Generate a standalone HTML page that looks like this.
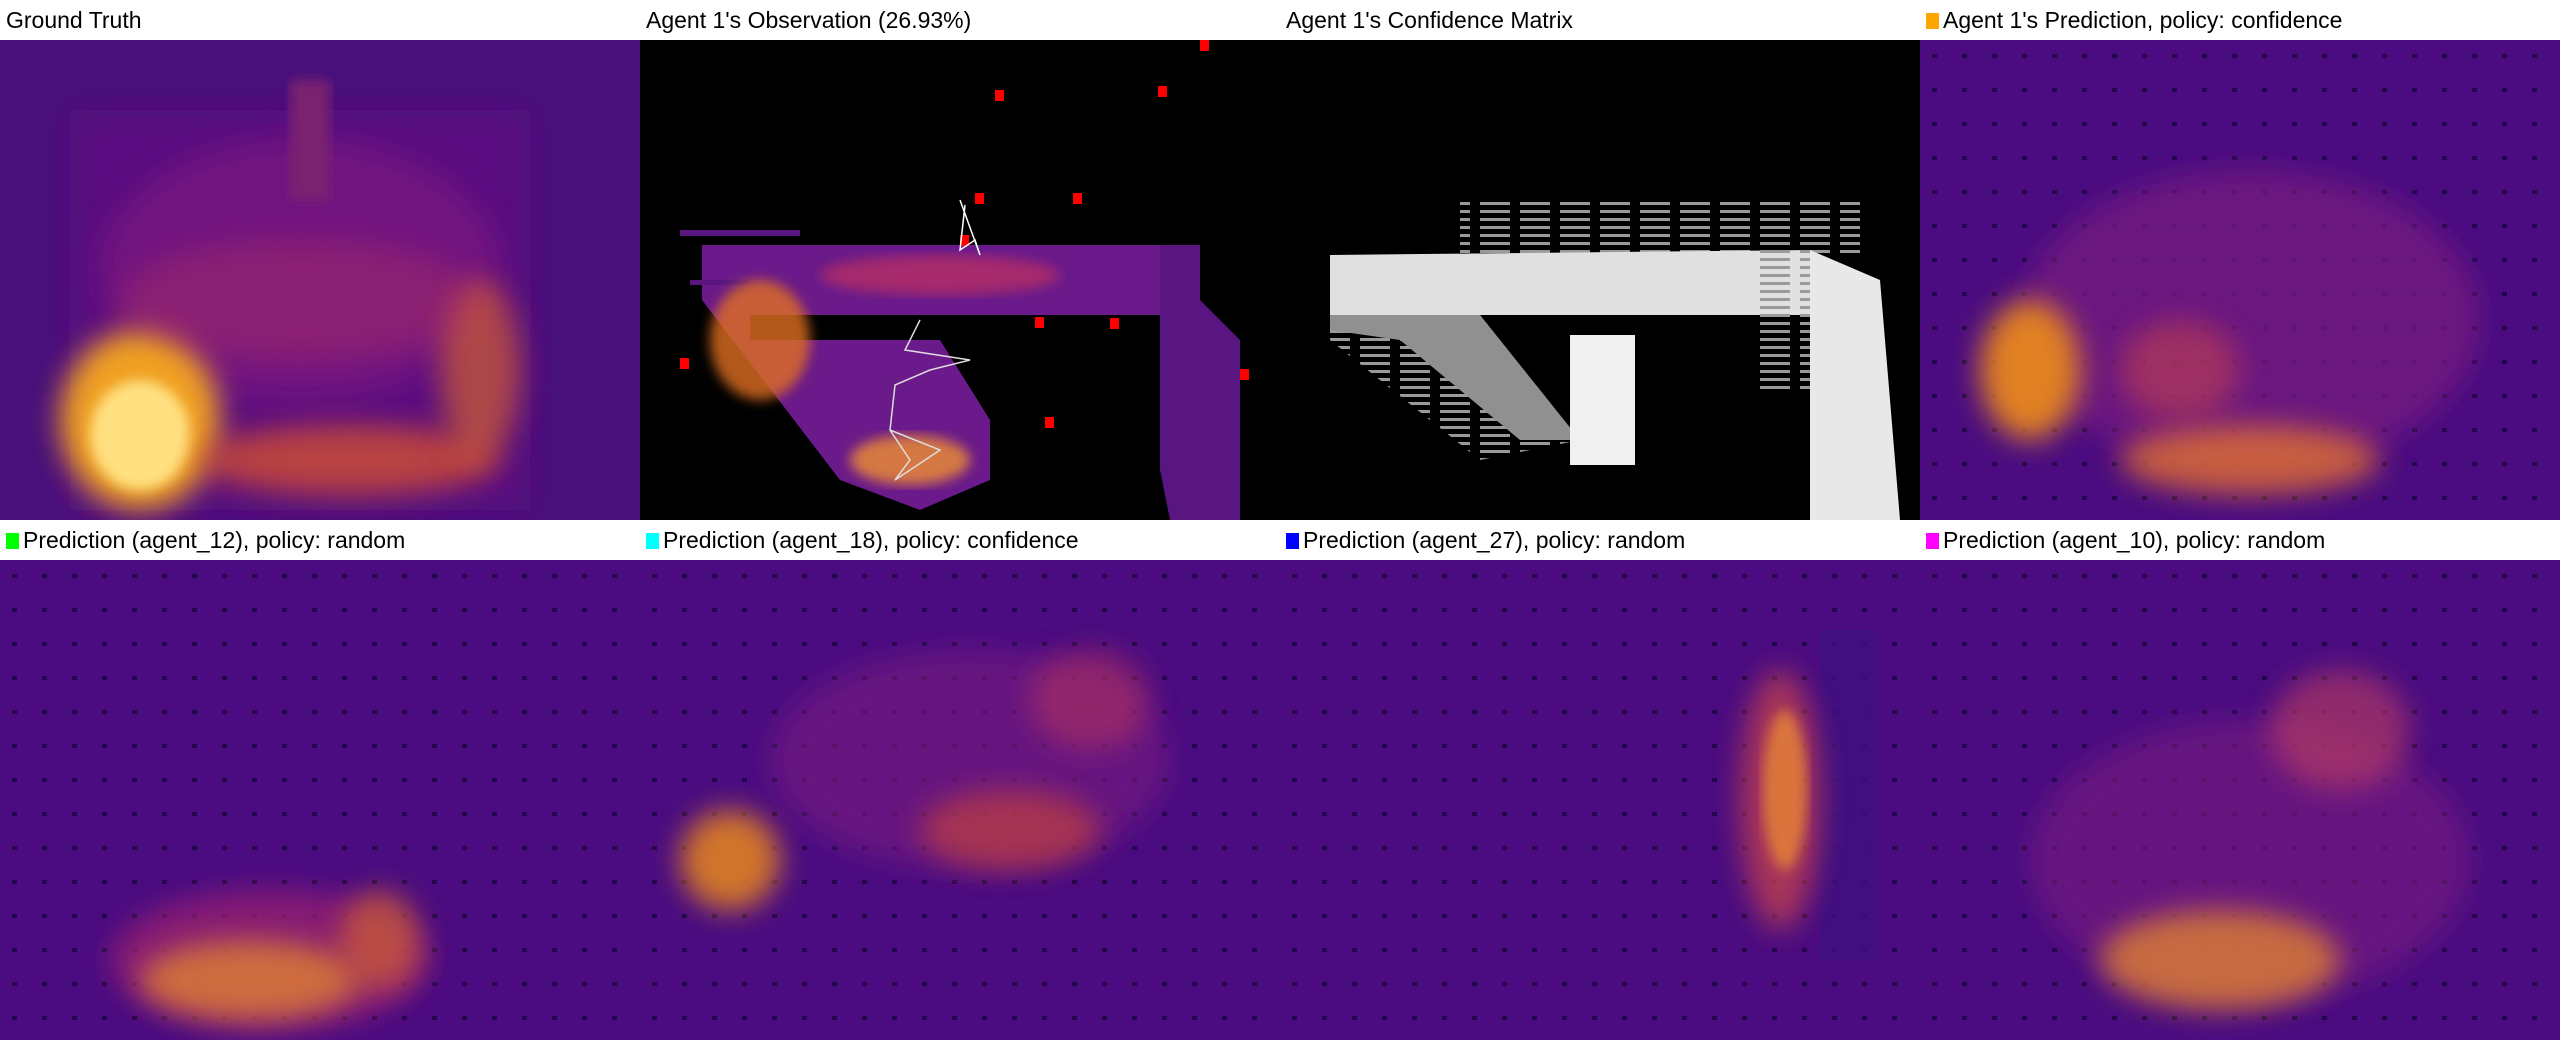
<!DOCTYPE html>
<html><head><meta charset="utf-8"><style>
html,body{margin:0;padding:0;background:#fff;width:2560px;height:1040px;overflow:hidden}
.t{position:absolute;font-family:"Liberation Sans Narrow","Liberation Sans",sans-serif;font-size:23px;color:#000;height:40px;line-height:40px;white-space:nowrap}
.sq{display:inline-block;width:13px;height:16px;margin-right:4px;vertical-align:-1px}
.p{position:absolute;width:640px;height:480px}
</style></head><body>
<svg width="0" height="0" style="position:absolute"><defs>
<filter id="b" x="-50%" y="-50%" width="200%" height="200%"><feGaussianBlur stdDeviation="14"/></filter>
<filter id="b2"><feGaussianBlur stdDeviation="6"/></filter>
<pattern id="dots" width="30" height="34" patternUnits="userSpaceOnUse"><rect x="12" y="14" width="5" height="4" fill="#1a0540" opacity="0.8"/></pattern>
<pattern id="stripes" width="40" height="8" patternUnits="userSpaceOnUse"><rect x="0" y="2" width="30" height="3" fill="#9a9a9a"/></pattern>
</defs></svg>

<div class="t" style="left:6px;top:0">Ground Truth</div>
<div class="t" style="left:646px;top:0">Agent 1's Observation (26.93%)</div>
<div class="t" style="left:1286px;top:0">Agent 1's Confidence Matrix</div>
<div class="t" style="left:1926px;top:0"><span class="sq" style="background:#ffa500"></span>Agent 1's Prediction, policy: confidence</div>
<div class="t" style="left:6px;top:520px"><span class="sq" style="background:#00ff00"></span>Prediction (agent_12), policy: random</div>
<div class="t" style="left:646px;top:520px"><span class="sq" style="background:#00ffff"></span>Prediction (agent_18), policy: confidence</div>
<div class="t" style="left:1286px;top:520px"><span class="sq" style="background:#0000ff"></span>Prediction (agent_27), policy: random</div>
<div class="t" style="left:1926px;top:520px"><span class="sq" style="background:#ff00ff"></span>Prediction (agent_10), policy: random</div>

<!-- Ground truth -->
<svg class="p" style="left:0;top:40px">
<rect width="640" height="480" fill="#48107a"/>
<rect x="70" y="70" width="460" height="400" fill="#5a1080" filter="url(#b)"/>
<ellipse cx="300" cy="230" rx="200" ry="130" fill="#8a1a80" opacity="0.5" filter="url(#b)"/>
<ellipse cx="140" cy="380" rx="80" ry="90" fill="#f0a020" filter="url(#b)"/>
<ellipse cx="140" cy="395" rx="50" ry="55" fill="#ffe080" filter="url(#b2)"/>
<ellipse cx="350" cy="420" rx="150" ry="35" fill="#d05030" opacity="0.8" filter="url(#b)"/>
<ellipse cx="480" cy="330" rx="40" ry="90" fill="#d06030" opacity="0.7" filter="url(#b)"/>
<ellipse cx="300" cy="260" rx="180" ry="60" fill="#b03060" opacity="0.4" filter="url(#b)"/>
<rect x="290" y="40" width="40" height="120" fill="#7a2070" filter="url(#b2)"/>
</svg>

<!-- Observation -->
<svg class="p" style="left:640px;top:40px">
<rect width="640" height="480" fill="#000"/>
<polygon points="62,205 520,205 520,275 110,275 110,300 300,300 350,380 350,440 280,470 200,440 62,260" fill="#6a1a8a"/>
<polygon points="520,205 560,205 560,260 600,300 600,480 530,480 520,430" fill="#5a1680"/>
<rect x="40" y="190" width="120" height="6" fill="#5a1680"/>
<rect x="50" y="240" width="60" height="5" fill="#5a1680"/>
<ellipse cx="120" cy="300" rx="50" ry="60" fill="#e07020" opacity="0.8" filter="url(#b2)"/>
<ellipse cx="270" cy="420" rx="60" ry="25" fill="#f09030" opacity="0.8" filter="url(#b2)"/>
<ellipse cx="300" cy="235" rx="120" ry="20" fill="#c03060" opacity="0.7" filter="url(#b2)"/>
<g fill="#ff0000"><rect x="560" y="0" width="9" height="11"/><rect x="518" y="46" width="9" height="11"/><rect x="355" y="50" width="9" height="11"/><rect x="433" y="153" width="9" height="11"/><rect x="335" y="153" width="9" height="11"/><rect x="395" y="277" width="9" height="11"/><rect x="470" y="278" width="9" height="11"/><rect x="600" y="329" width="9" height="11"/><rect x="40" y="318" width="9" height="11"/><rect x="405" y="377" width="9" height="11"/><rect x="320" y="195" width="9" height="11"/></g>
<polyline points="325,165 320,210 335,200 340,215 320,160" fill="none" stroke="#fff" stroke-width="1.5"/>
<polyline points="280,280 265,310 330,320 290,330 255,345 250,390 270,420 255,440 300,410 250,390" fill="none" stroke="#ddd" stroke-width="1.5"/>
</svg>

<!-- Confidence -->
<svg class="p" style="left:1280px;top:40px">
<rect width="640" height="480" fill="#000"/>
<rect x="180" y="160" width="400" height="55" fill="url(#stripes)"/>
<polygon points="50,215 530,210 530,275 50,275" fill="#e0e0e0"/>
<polygon points="530,210 600,240 620,480 530,480 530,275" fill="#e8e8e8"/>
<polygon points="50,275 200,275 300,400 200,420 150,380 50,300" fill="url(#stripes)"/>
<polygon points="50,275 200,275 300,400 240,400 120,300 50,290" fill="#909090"/>
<rect x="290" y="295" width="65" height="130" fill="#f0f0f0"/>
<rect x="480" y="200" width="50" height="150" fill="url(#stripes)"/>
</svg>

<!-- Prediction panels -->
<svg class="p" style="left:1920px;top:40px">
<rect width="640" height="480" fill="#4a0c80"/><rect width="640" height="480" fill="url(#dots)"/>
<ellipse cx="330" cy="280" rx="230" ry="150" fill="#7a1a80" opacity="0.7" filter="url(#b)"/>
<ellipse cx="110" cy="330" rx="50" ry="70" fill="#e08020" filter="url(#b)"/>
<ellipse cx="330" cy="420" rx="130" ry="35" fill="#e07030" opacity="0.8" filter="url(#b)"/>
<ellipse cx="260" cy="330" rx="60" ry="50" fill="#c04050" opacity="0.6" filter="url(#b)"/>
</svg>
<svg class="p" style="left:0;top:560px">
<rect width="640" height="480" fill="#4a0c80"/><rect width="640" height="480" fill="url(#dots)"/>
<ellipse cx="270" cy="400" rx="160" ry="70" fill="#a02070" opacity="0.7" filter="url(#b)"/>
<ellipse cx="250" cy="420" rx="110" ry="40" fill="#e08030" opacity="0.8" filter="url(#b)"/>
<ellipse cx="380" cy="380" rx="40" ry="50" fill="#d06030" opacity="0.7" filter="url(#b)"/>
</svg>
<svg class="p" style="left:640px;top:560px">
<rect width="640" height="480" fill="#4a0c80"/><rect width="640" height="480" fill="url(#dots)"/>
<ellipse cx="330" cy="200" rx="200" ry="110" fill="#7a1a80" opacity="0.6" filter="url(#b)"/>
<ellipse cx="90" cy="300" rx="50" ry="50" fill="#e08020" opacity="0.9" filter="url(#b)"/>
<ellipse cx="370" cy="270" rx="90" ry="40" fill="#c04040" opacity="0.7" filter="url(#b)"/>
<ellipse cx="450" cy="140" rx="60" ry="50" fill="#b03060" opacity="0.6" filter="url(#b)"/>
</svg>
<svg class="p" style="left:1280px;top:560px">
<rect width="640" height="480" fill="#4a0c80"/><rect width="640" height="480" fill="url(#dots)"/>
<rect x="540" y="70" width="60" height="330" fill="#3e1080" opacity="0.8"/>
<ellipse cx="500" cy="240" rx="40" ry="130" fill="#c04050" opacity="0.8" filter="url(#b)"/>
<ellipse cx="505" cy="230" rx="22" ry="80" fill="#f09030" opacity="0.7" filter="url(#b2)"/>
</svg>
<svg class="p" style="left:1920px;top:560px">
<rect width="640" height="480" fill="#4a0c80"/><rect width="640" height="480" fill="url(#dots)"/>
<ellipse cx="330" cy="300" rx="220" ry="140" fill="#7a1a80" opacity="0.6" filter="url(#b)"/>
<ellipse cx="300" cy="400" rx="120" ry="50" fill="#e08030" opacity="0.8" filter="url(#b)"/>
<ellipse cx="420" cy="170" rx="70" ry="60" fill="#c04060" opacity="0.6" filter="url(#b)"/>
</svg>
</body></html>
